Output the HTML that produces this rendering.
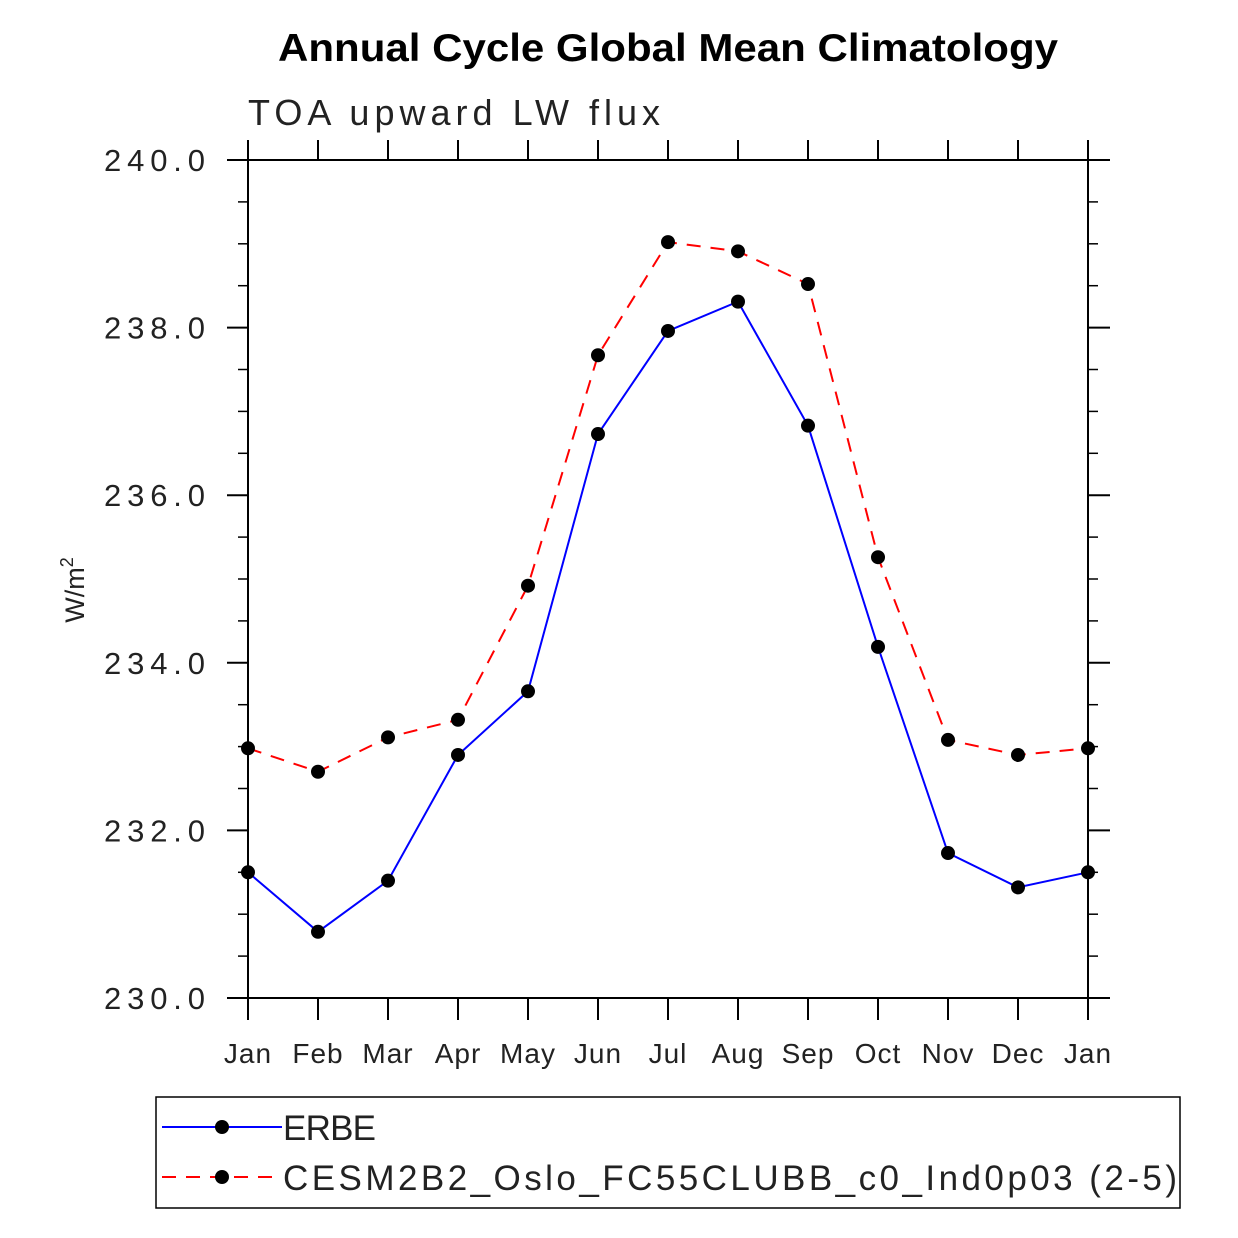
<!DOCTYPE html>
<html><head><meta charset="utf-8"><style>
html,body{margin:0;padding:0;background:#fff;}
svg{display:block;}
text{font-family:"Liberation Sans",sans-serif;}
</style></head><body>
<svg id="chart" width="1238" height="1238" viewBox="0 0 1238 1238" xmlns="http://www.w3.org/2000/svg">
<text x="278" y="61" font-size="39" font-weight="bold" textLength="780" lengthAdjust="spacingAndGlyphs">Annual Cycle Global Mean Climatology</text>
<text x="248" y="125" font-size="36" fill="#222" textLength="412" lengthAdjust="spacing">TOA upward LW flux</text>
<text transform="translate(84,590) rotate(-90)" text-anchor="middle" font-size="27" fill="#222">W/m<tspan dy="-11" font-size="18">2</tspan></text>
<g id="axes"></g>
<g id="series"></g>
<rect x="156" y="1097" width="1024" height="111" fill="none" stroke="#000" stroke-width="1.5"/>
<g>
<line x1="162" y1="1127" x2="282" y2="1127" stroke="#0000ff" stroke-width="2"/>
<circle cx="222" cy="1127" r="7" fill="#000"/>
<text x="283" y="1140" font-size="35" fill="#222" textLength="93" lengthAdjust="spacing">ERBE</text>
</g>
<g>
<line x1="162" y1="1177" x2="282" y2="1177" stroke="#ff0000" stroke-width="2" stroke-dasharray="14,10"/>
<circle cx="222" cy="1177" r="7" fill="#000"/>
<text x="283" y="1190" font-size="35" fill="#222" textLength="894" lengthAdjust="spacing">CESM2B2_Oslo_FC55CLUBB_c0_Ind0p03 (2-5)</text>
</g>
</svg>
<script>
const months = ["Jan","Feb","Mar","Apr","May","Jun","Jul","Aug","Sep","Oct","Nov","Dec","Jan"];
const erbe = [231.50,230.79,231.40,232.90,233.66,236.73,237.96,238.31,236.83,234.19,231.73,231.32,231.50];
const cesm = [232.98,232.70,233.11,233.32,234.92,237.67,239.02,238.91,238.52,235.26,233.08,232.90,232.98];
const yTicks = [230,232,234,236,238,240];
const yTickLabels = ["230.0","232.0","234.0","236.0","238.0","240.0"];
const yMin = 230, yMax = 240;
const NS = "http://www.w3.org/2000/svg";
const L=248,R=1088,T=160,B=998;
function xs(i){return L+(R-L)*i/(months.length-1);}
function ys(v){return B-(B-T)*(v-yMin)/(yMax-yMin);}
function mk(tag,attrs,parent){const e=document.createElementNS(NS,tag);for(const k in attrs)e.setAttribute(k,attrs[k]);parent.appendChild(e);return e;}
const ax=document.getElementById('axes');
const frame=mk('rect',{x:L,y:T,width:R-L,height:B-T,fill:'none',stroke:'#000','stroke-width':2},ax);


months.forEach((m,i)=>{
  const x=xs(i);
  mk('line',{x1:x,y1:T-20,x2:x,y2:T,stroke:'#000','stroke-width':2},ax);
  mk('line',{x1:x,y1:B,x2:x,y2:B+22,stroke:'#000','stroke-width':2},ax);
  const t=mk('text',{x:x,y:1063,'text-anchor':'middle','font-size':28,fill:'#222','letter-spacing':1},ax);
  t.textContent=m;
  
  
});
for(let v=yMin; v<=yMax+1e-9; v+=0.5){
  const y=ys(v);
  const major=Math.abs(v-Math.round(v/2)*2)<1e-6;
  mk('line',{x1:major?227:238,y1:y,x2:L,y2:y,stroke:'#000','stroke-width':major?2:1.5},ax);
  mk('line',{x1:R,y1:y,x2:major?1110:1098,y2:y,stroke:'#000','stroke-width':major?2:1.5},ax);
}
yTicks.forEach((v,i)=>{
  const t=mk('text',{x:104,y:ys(v)+11,'font-size':31,fill:'#222',textLength:101,lengthAdjust:'spacing'},ax);
  t.textContent=yTickLabels[i];
  
  
});
const sg=document.getElementById('series');
function draw(vals,color,dash,name){
  const pts=vals.map((v,i)=>xs(i)+','+ys(v)).join(' ');
  const pl=mk('polyline',{points:pts,fill:'none',stroke:color,'stroke-width':2},sg);
  if(dash)pl.setAttribute('stroke-dasharray',dash);
  
  
  vals.forEach((v,i)=>{
    const c=mk('circle',{cx:xs(i),cy:ys(v),r:7,fill:'#000'},sg);
    
    
  });
}
draw(erbe,'#0000ff',null,'erbe');
draw(cesm,'#ff0000','14,10','cesm');
</script>
</body></html>
